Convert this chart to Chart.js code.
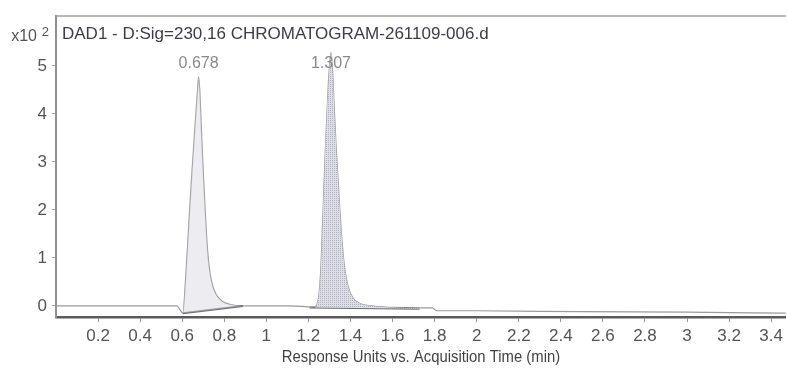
<!DOCTYPE html>
<html>
<head>
<meta charset="utf-8">
<script src="https://cdn.jsdelivr.net/npm/chart.js@4.4.0/dist/chart.umd.min.js"></script>
<style>
  html, body { margin: 0; padding: 0; background: #fff; }
</style>
</head>
<body>
<canvas id="chromChart" width="787" height="371"></canvas>
<script>
// Chromatogram trace, time in min, response in x10^2 units
const traceTime = [0.00, 0.10, 0.30, 0.50, 0.575, 0.590, 0.603, 0.615, 0.630, 0.645, 0.660, 0.672, 0.678, 0.684,
  0.692, 0.700, 0.708, 0.716, 0.726, 0.740, 0.760, 0.790, 0.830, 0.880, 1.000, 1.100, 1.200, 1.225, 1.245, 1.258,
  1.268, 1.280, 1.292, 1.302, 1.307, 1.313, 1.322, 1.332, 1.344, 1.358, 1.372, 1.388, 1.410, 1.440, 1.500, 1.600,
  1.720, 1.790, 1.810, 2.000, 2.500, 3.000, 3.470];
const traceSignal = [0.00, 0.00, 0.00, 0.00, 0.00, -0.08, -0.15, 0.50, 1.60, 2.70, 3.70, 4.45, 4.78, 4.45,
  3.60, 2.80, 2.10, 1.45, 0.90, 0.50, 0.25, 0.10, 0.03, 0.00, 0.00, 0.00, -0.02, -0.03, 0.10, 0.70,
  1.80, 3.20, 4.40, 5.10, 5.28, 5.05, 4.20, 3.30, 2.40, 1.45, 0.80, 0.42, 0.18, 0.06, 0.00, -0.03,
  -0.04, -0.04, -0.10, -0.10, -0.12, -0.13, -0.15];

// integration baselines under each peak
const base1Time = [0.603, 0.888];
const base1Signal = [-0.15, 0.00];
const base2Time = [1.206, 1.728];
const base2Signal = [-0.03, -0.06];

// peak annotations
const peakTimes = [0.678, 1.307];
const peakLabels = ['0.678', '1.307'];

const xTicks = [0.2, 0.4, 0.6, 0.8, 1, 1.2, 1.4, 1.6, 1.8, 2, 2.2, 2.4, 2.6, 2.8, 3, 3.2, 3.4];
const yTicks = [0, 1, 2, 3, 4, 5];

const chartTitle = 'DAD1 - D:Sig=230,16 CHROMATOGRAM-261109-006.d';
const xTitle = 'Response Units vs. Acquisition Time (min)';

const FONT = "'Liberation Sans Narrow', 'Liberation Sans', Arial, sans-serif";

const toPoints = (xs, ys) => xs.map((x, i) => ({ x: x, y: ys[i] }));
const trace = toPoints(traceTime, traceSignal);

// dotted fill for the second peak
function stipple() {
  const c = document.createElement('canvas');
  c.width = 2; c.height = 2;
  const g = c.getContext('2d');
  g.fillStyle = 'rgb(222,222,230)';
  g.fillRect(0, 0, 2, 2);
  g.fillStyle = 'rgb(176,176,190)';
  g.fillRect(0, 0, 1, 1);
  return g.createPattern(c, 'repeat');
}

const frameText = {
  id: 'frameText',
  afterDraw(chart) {
    const { ctx, chartArea, scales } = chart;
    ctx.save();
    // top frame line
    ctx.strokeStyle = '#a0a0a0';
    ctx.lineWidth = 1.5;
    ctx.beginPath();
    ctx.moveTo(chartArea.left, chartArea.top);
    ctx.lineTo(chartArea.right, chartArea.top);
    ctx.stroke();

    // signal title
    ctx.font = '17px ' + FONT;
    ctx.fillStyle = '#3c3c4c';
    ctx.textAlign = 'left';
    ctx.textBaseline = 'middle';
    ctx.fillText(chartTitle, chartArea.left + 6, chartArea.top + 18);

    // multiplier x10^2
    ctx.fillStyle = '#555';
    ctx.textAlign = 'right';
    ctx.font = '16px ' + FONT;
    ctx.fillText('x10', chartArea.left - 19, chartArea.top + 21);
    ctx.font = '13px ' + FONT;
    ctx.fillText('2', chartArea.left - 7, chartArea.top + 16);

    // retention time labels
    ctx.font = '16px ' + FONT;
    ctx.fillStyle = '#8a8a8a';
    ctx.textAlign = 'center';
    peakTimes.forEach((t, i) => {
      ctx.fillText(peakLabels[i], scales.x.getPixelForValue(t), scales.y.getPixelForValue(5.05));
    });

    // x axis title, slightly condensed like the original print
    const cx = (chartArea.left + chartArea.right) / 2;
    ctx.font = '16.5px ' + FONT;
    ctx.fillStyle = '#444';
    ctx.translate(cx, chartArea.bottom + 40);
    ctx.scale(0.9, 1);
    ctx.fillText(xTitle, 0, 0);
    ctx.restore();
  }
};

new Chart(document.getElementById('chromChart'), {
  type: 'line',
  data: {
    datasets: [
      { data: trace, borderWidth: 0, pointRadius: 0, cubicInterpolationMode: 'monotone',
        fill: { target: 2 }, backgroundColor: 'rgba(214,214,224,0.45)' },
      { data: trace, borderWidth: 0, pointRadius: 0, cubicInterpolationMode: 'monotone',
        fill: { target: 3 }, backgroundColor: stipple() },
      { data: toPoints(base1Time, base1Signal), borderColor: '#707070', borderWidth: 2, pointRadius: 0, fill: false },
      { data: toPoints(base2Time, base2Signal), borderColor: '#707070', borderWidth: 2, pointRadius: 0, fill: false },
      { data: trace, borderColor: '#9a9a9a', borderWidth: 1.2, pointRadius: 0,
        cubicInterpolationMode: 'monotone', fill: false }
    ]
  },
  options: {
    responsive: false,
    animation: false,
    devicePixelRatio: 1,
    layout: { padding: { top: 16, left: 0, right: 0, bottom: 0 } },
    plugins: {
      legend: { display: false },
      tooltip: { enabled: false }
    },
    scales: {
      x: {
        type: 'linear',
        min: 0,
        max: 3.47,
        afterBuildTicks: s => { s.ticks = xTicks.map(v => ({ value: v })); },
        afterFit: s => { s.height = 54; },
        ticks: {
          color: '#555',
          font: { family: FONT, size: 17 },
          padding: 4,
          maxRotation: 0,
          autoSkip: false,
          callback: v => String(Number(v.toFixed(1)))
        },
        grid: { drawOnChartArea: false, drawTicks: true, tickLength: 5, color: '#999' },
        border: { color: '#5a5a5a', width: 2.5 },
        title: { display: false }
      },
      y: {
        min: -0.23,
        max: 6.04,
        afterBuildTicks: s => { s.ticks = yTicks.map(v => ({ value: v })); },
        afterFit: s => { s.width = 56; },
        ticks: {
          color: '#555',
          font: { family: FONT, size: 17 },
          padding: 5
        },
        grid: { drawOnChartArea: false, drawTicks: true, tickLength: 4, color: '#aaa' },
        border: { color: '#909090', width: 2 }
      }
    }
  },
  plugins: [frameText]
});
</script>
</body>
</html>
